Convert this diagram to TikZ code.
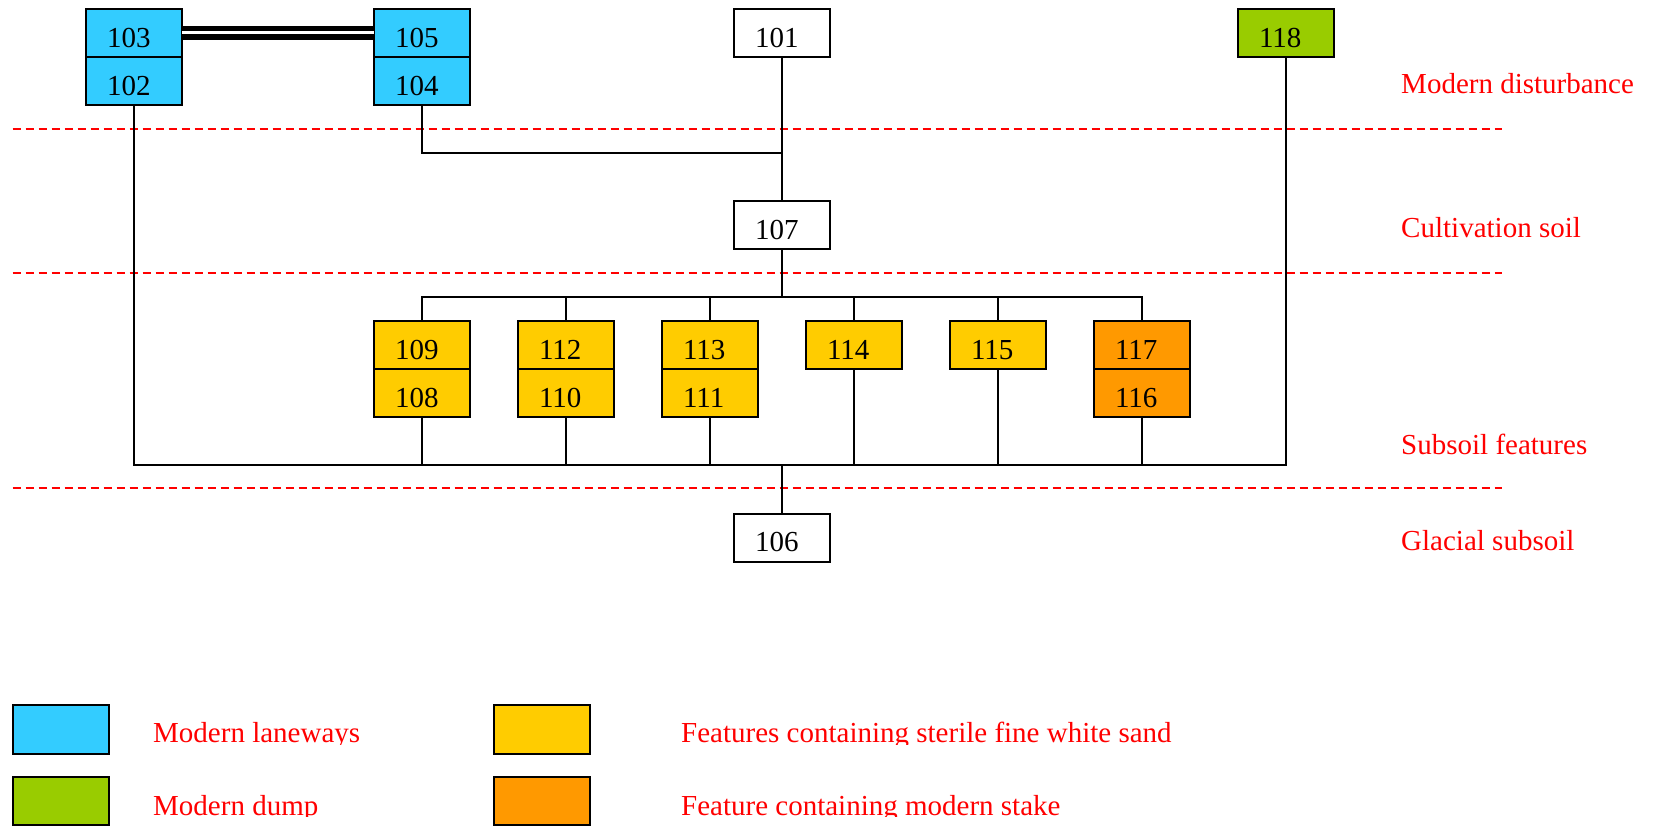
\documentclass[tikz,border=0pt]{standalone}
\usepackage{fontspec}
\setmainfont{Liberation Serif}
\definecolor{lane}{RGB}{51,204,255}
\definecolor{dump}{RGB}{153,204,0}
\definecolor{sand}{RGB}{255,204,0}
\definecolor{stake}{RGB}{255,153,0}
\definecolor{lblred}{RGB}{255,0,0}
\begin{document}
\begin{tikzpicture}[x=1pt,y=-1pt,
  box/.style={draw=black, line width=2pt, minimum width=96pt, minimum height=48pt,
    inner xsep=21pt, inner ysep=0pt, outer sep=0pt, text width=54pt, align=left,
    text height=28pt, text depth=0pt, font=\fontsize{29}{34}\selectfont},
  legbox/.style={draw=black, line width=2pt, minimum width=96pt, minimum height=48pt,
    inner sep=0pt, outer sep=0pt},
  conn/.style={draw=black, line width=2pt},
  dbl/.style={draw=black, line width=5.4pt, double=white, double distance=3.2pt},
  layer/.style={draw=lblred, line width=2pt, dash pattern=on 8pt off 5pt},
  lbl/.style={text=lblred, inner sep=0pt, font=\fontsize{29}{34}\selectfont}]
\useasboundingbox (0,0) rectangle (1653,826);
% top row
\node[box, fill=lane] (103) at (134,33.3) {103};
\node[box, fill=lane, anchor=north] (102) at (103.south) {102};
\node[box, fill=lane] (105) at (422,33.3) {105};
\node[box, fill=lane, anchor=north] (104) at (105.south) {104};
\node[box] (101) at (782,33.3) {101};
\node[box, fill=dump] (118) at (1286,33.3) {118};
% middle
\node[box] (107) at (782,225.2) {107};
% features row
\node[box, fill=sand] (109) at (422,345.3) {109};
\node[box, fill=sand, anchor=north] (108) at (109.south) {108};
\node[box, fill=sand] (112) at (566,345.3) {112};
\node[box, fill=sand, anchor=north] (110) at (112.south) {110};
\node[box, fill=sand] (113) at (710,345.3) {113};
\node[box, fill=sand, anchor=north] (111) at (113.south) {111};
\node[box, fill=sand] (114) at (854,345.3) {114};
\node[box, fill=sand] (115) at (998,345.3) {115};
\node[box, fill=stake] (117) at (1142,345.3) {117};
\node[box, fill=stake, anchor=north] (116) at (117.south) {116};
% bottom
\node[box] (106) at (782,537.5) {106};
% junction coordinates
\coordinate (jtop) at (782,153.5);
\coordinate (busT) at (782,297);
\coordinate (busB) at (782,465);
% layer lines
\draw[layer] (12.6,129) -- (1502,129);
\draw[layer] (12.6,273) -- (1502,273);
\draw[layer] (12.6,488) -- (1502,488);
% connectors
\draw[dbl] ([yshift=0.6pt]103.east) -- ([yshift=0.6pt]105.west);
\draw[conn] (101.south) -- (107.north);
\draw[conn] (104.south) |- (jtop);
\draw[conn] (107.south) -- (busT);
\draw[conn] (109.north) |- (busT) -| (117.north);
\draw[conn] (112.north) -- (112.north |- busT);
\draw[conn] (113.north) -- (113.north |- busT);
\draw[conn] (114.north) -- (114.north |- busT);
\draw[conn] (115.north) -- (115.north |- busT);
\draw[conn] (102.south) |- (busB) -| (118.south);
\draw[conn] (108.south) -- (108.south |- busB);
\draw[conn] (110.south) -- (110.south |- busB);
\draw[conn] (111.south) -- (111.south |- busB);
\draw[conn] (114.south) -- (114.south |- busB);
\draw[conn] (115.south) -- (115.south |- busB);
\draw[conn] (116.south) -- (116.south |- busB);
\draw[conn] (busB) -- (106.north);
% layer labels
\node[lbl, anchor=base west] (lmod) at (1401,94) {Modern disturbance};
\node[lbl, anchor=base west] (lcult) at (1401,238) {Cultivation soil};
\node[lbl, anchor=base west] (lsub) at (1401,454) {Subsoil features};
\node[lbl, anchor=base west] (lgla) at (1401,550) {Glacial subsoil};
% legend
\node[legbox, fill=lane, minimum height=49pt] (klane) at (61,729.5) {};
\node[legbox, fill=dump] (kdump) at (61,801) {};
\node[legbox, fill=sand, minimum height=49pt] (ksand) at (542,729.5) {};
\node[legbox, fill=stake] (kstake) at (542,801) {};
\begin{scope}
\clip (0,690) rectangle (1653,744);
\node[lbl, anchor=base west] (tlane) at (153,742) {Modern laneways};
\node[lbl, anchor=base west] (tsand) at (681,742) {Features containing sterile fine white sand};
\end{scope}
\begin{scope}
\clip (0,770) rectangle (1653,816);
\node[lbl, anchor=base west] (tdump) at (153,815) {Modern dump};
\node[lbl, anchor=base west] (tstake) at (681,815) {Feature containing modern stake};
\end{scope}
\end{tikzpicture}
\end{document}
